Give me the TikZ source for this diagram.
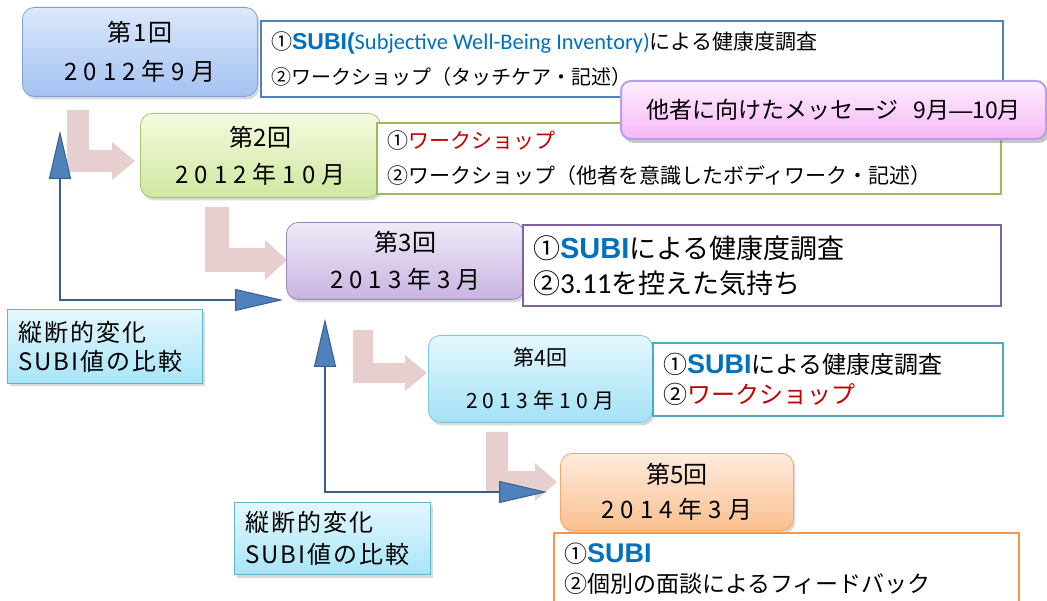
\documentclass[tikz,border=0pt]{standalone}
\usepackage{fontspec}
\setmainfont{Noto Sans CJK JP}
\newfontfamily\calib{Carlito}
\newfontfamily\arialb{Liberation Sans}
\newfontfamily\wfont[LetterSpace=25]{Noto Sans CJK JP}
\newfontfamily\sfont[LetterSpace=8]{Noto Sans CJK JP}
\newfontfamily\lfont[LetterSpace=8]{Noto Sans CJK JP}
\usetikzlibrary{shadows,arrows.meta}
\definecolor{subi}{HTML}{0070C0}
\definecolor{redw}{HTML}{C00000}
\definecolor{bat}{HTML}{DCE8FB}\definecolor{bab}{HTML}{A4C2F2}\definecolor{bad}{HTML}{7FA1D6}
\definecolor{bbt}{HTML}{F4FADF}\definecolor{bbb}{HTML}{D0E7A0}\definecolor{bbd}{HTML}{A8C870}
\definecolor{bct}{HTML}{EFE9F7}\definecolor{bcb}{HTML}{C8B5E2}\definecolor{bcd}{HTML}{9C86BD}
\definecolor{bdt}{HTML}{E4F7FD}\definecolor{bdb}{HTML}{A3E2F6}\definecolor{bdd}{HTML}{7CC6DE}
\definecolor{bet}{HTML}{FEEBDD}\definecolor{beb}{HTML}{FAC08F}\definecolor{bed}{HTML}{F5A867}
\definecolor{ia}{HTML}{4F81BD}\definecolor{ib}{HTML}{9BBB59}\definecolor{ic}{HTML}{8064A2}
\definecolor{id}{HTML}{4BACC6}\definecolor{ie}{HTML}{F79646}
\definecolor{mt}{HTML}{FDEDFD}\definecolor{mb}{HTML}{F6B8F6}\definecolor{md}{HTML}{B79FE6}
\definecolor{lt}{HTML}{E4F7FD}\definecolor{lb}{HTML}{A7E5F8}\definecolor{ld}{HTML}{5FB7CF}
\definecolor{pinkarr}{HTML}{E7CFCF}
\definecolor{arrfill}{HTML}{4F81BD}\definecolor{arrline}{HTML}{3A5E8C}
\newcommand\subiword[2]{{\color{subi}\arialb\bfseries\fontsize{#1}{#1}\selectfont #2}}
\tikzset{
  stage/.style={draw, line width=0.8pt, rounded corners=12pt, anchor=north west, inner sep=0pt,
    align=center, drop shadow={opacity=0.3, shadow xshift=2pt, shadow yshift=-3pt}},
  info/.style={draw, line width=2.2pt, fill=white, anchor=north west, align=flush left,
    inner xsep=10pt, inner ysep=0pt},
  msgbox/.style={draw=md, line width=2pt, rounded corners=10pt, top color=mt, bottom color=mb,
    anchor=north west, inner sep=0pt, align=center,
    drop shadow={opacity=0.45, shadow xshift=3pt, shadow yshift=-4pt}},
  legend/.style={draw=ld, line width=1pt, top color=lt, bottom color=lb, anchor=north west,
    align=flush left, inner xsep=11pt, inner ysep=0pt,
    drop shadow={opacity=0.3, shadow xshift=2pt, shadow yshift=-3pt}},
  conn/.style={draw=arrline, line width=2.8pt,
    {Triangle[length=48pt,width=22pt,fill=arrfill,line width=1pt]}-{Triangle[length=48pt,width=22pt,fill=arrfill,line width=1pt]}},
  pinkL/.style={fill=pinkarr}
}
% #1,#2 top-left; #3 bar width; #4 height; #5 head base offset; #6 tip offset
\newcommand\Larrow[6]{%
  \fill[pinkL] (#1,#2) -- (#1+#3,#2) -- (#1+#3,#2+#4-#3) -- (#1+#5,#2+#4-#3)
    -- (#1+#5,#2+#4-#3-8) -- (#1+#6,#2+#4-#3/2) -- (#1+#5,#2+#4+8)
    -- (#1+#5,#2+#4) -- (#1,#2+#4) -- cycle;}
\begin{document}
\begin{tikzpicture}[x=1pt,y=-1pt]
\useasboundingbox (0,0) rectangle (1047,601);
\clip (0,0) rectangle (1047,601);

% pink L arrows
\Larrow{67}{110}{22}{62}{45}{68}
\Larrow{205}{207}{24}{65}{60}{82}
\Larrow{353}{330}{20}{53}{52}{74}
\Larrow{486}{432}{22}{61}{49}{71}

% stage boxes
\node[stage, top color=bat, bottom color=bab, draw=bad, minimum width=235pt, minimum height=89pt,
  font=\fontsize{24}{39}\selectfont] (b1) at (22,7) {\sfont 第1回\\\wfont 2012年9月};
\node[stage, top color=bbt, bottom color=bbb, draw=bbd, minimum width=240pt, minimum height=84pt,
  font=\fontsize{24}{37}\selectfont] (b2) at (140,113) {第2回\\\wfont 2012年10月};
\node[stage, top color=bct, bottom color=bcb, draw=bcd, minimum width=238pt, minimum height=77pt,
  font=\fontsize{24}{37}\selectfont] (b3) at (286,222) {第3回\\\wfont 2013年3月};
\node[stage, top color=bdt, bottom color=bdb, draw=bdd, minimum width=224pt, minimum height=87pt,
  font=\fontsize{21}{43}\selectfont] (b4) at (428,335) {第4回\\\wfont 2013年10月};
\node[stage, top color=bet, bottom color=beb, draw=bed, minimum width=233pt, minimum height=77pt,
  font=\fontsize{24}{35}\selectfont] (b5) at (560,453) {第5回\\\wfont 2014年3月};

% info boxes
\node[info, draw=ia, minimum width=742pt, minimum height=76pt, text width=722pt,
  font=\fontsize{21}{35}\selectfont] (i1) at (260,20)
  {①\subiword{23}{SUBI(}{\color{subi}\calib\fontsize{22.4}{22}\selectfont Subjective Well-Being Inventory)}による健康度調査\\
   {\fontsize{20}{35}\selectfont ②ワークショップ（タッチケア・記述）}};
\node[info, draw=ib, minimum width=624pt, minimum height=71pt, text width=604pt,
  font=\fontsize{21}{35}\selectfont] (i2) at (376,122)
  {①{\color{redw}ワークショップ}\\②ワークショップ（他者を意識したボディワーク・記述）};
\node[info, draw=ic, minimum width=478pt, minimum height=81pt, text width=458pt,
  font=\fontsize{27}{35}\selectfont] (i3) at (522,224)
  {①\subiword{29}{SUBI}による健康度調査\\②{\calib\fontsize{29}{29}\selectfont 3.11}を控えた気持ち};
\node[info, draw=id, minimum width=350pt, minimum height=73pt, text width=330pt,
  font=\fontsize{24}{30}\selectfont] (i4) at (652,342)
  {①\subiword{27}{SUBI}による健康度調査\\②{\color{redw}ワークショップ}};
\node[info, draw=ie, minimum width=465pt, minimum height=72pt, text width=445pt,
  font=\fontsize{23}{30}\selectfont] (i5) at (553,532)
  {①\subiword{27}{SUBI}\\②個別の面談によるフィードバック};

% message
\node[msgbox, minimum width=425pt, minimum height=58pt, font=\fontsize{23}{28}\selectfont] (m) at (620,80)
  {他者に向けたメッセージ\hspace{15pt}9月{\arialb —}10月};

% legends
\node[legend, minimum width=195pt, minimum height=74pt, text width=173pt,
  font=\fontsize{24}{29}\selectfont] (l1) at (7,309) {\lfont 縦断的変化\\\lfont SUBI値の比較};
\node[legend, minimum width=196pt, minimum height=72pt, text width=174pt,
  font=\fontsize{24}{32}\selectfont] (l2) at (234,502) {\lfont 縦断的変化\\\lfont SUBI値の比較};

% blue connectors
\coordinate (c1) at (60,300);
\coordinate (c2) at (325,492);
\draw[conn, shorten <=34pt, shorten >=3pt] (c1 |- b1.south) -- (c1) -- (c1 -| b3.west);
\draw[conn, shorten <=19pt, shorten >=13pt] (c2 |- b3.south) -- (c2) -- (c2 -| b5.west);
\end{tikzpicture}
\end{document}
